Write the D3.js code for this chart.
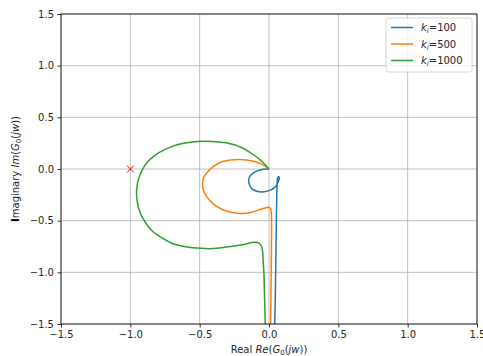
<!DOCTYPE html>
<html>
<head>
<meta charset="utf-8">
<script src="https://cdn.jsdelivr.net/npm/d3@7"></script>
<style>
  body { margin: 0; background: #fff; }
  text { font-family: 'DejaVu Sans', sans-serif; }
</style>
</head>
<body>
<div id="chart"></div>
<script>
const kiValues = [100, 500, 1000];
const colors = ['#1f77b4', '#ff7f0e', '#2ca02c'];
const ticks = [-1.5, -1.0, -0.5, 0.0, 0.5, 1.0, 1.5];

// Nyquist traces, [Re, Im]
const ki100 = [[0, 0], [-0.04, -0.003], [-0.085, -0.018], [-0.12, -0.045], [-0.14, -0.075], [-0.147, -0.11],
  [-0.142, -0.148], [-0.122, -0.192], [-0.08, -0.218], [-0.035, -0.22], [0.01, -0.205], [0.04, -0.18],
  [0.06, -0.145], [0.07, -0.11], [0.075, -0.085], [0.07, -0.075], [0.064, -0.082], [0.06, -0.11],
  [0.057, -0.2], [0.055, -0.35], [0.051, -0.7], [0.046, -1.2], [0.041, -1.5], [0.04, -1.6]];
const ki500 = [[0, 0], [-0.05, 0.045], [-0.1, 0.071], [-0.16, 0.088], [-0.22, 0.092], [-0.28, 0.086],
  [-0.34, 0.07], [-0.395, 0.03], [-0.44, -0.025], [-0.47, -0.08], [-0.48, -0.14], [-0.474, -0.2],
  [-0.45, -0.268], [-0.4, -0.34], [-0.34, -0.39], [-0.27, -0.42], [-0.197, -0.43], [-0.13, -0.42],
  [-0.077, -0.398], [-0.03, -0.378], [-0.005, -0.37], [0.01, -0.378], [0.016, -0.42], [0.018, -0.5],
  [0.018, -0.7], [0.015, -1.1], [0.012, -1.5], [0.011, -1.6]];
const ki1000 = [[0, 0], [-0.06, 0.085], [-0.125, 0.15], [-0.185, 0.198], [-0.245, 0.232], [-0.3, 0.252],
  [-0.36, 0.262], [-0.46, 0.268], [-0.57, 0.258], [-0.68, 0.228], [-0.76, 0.182], [-0.82, 0.135],
  [-0.875, 0.07], [-0.915, -0.01], [-0.942, -0.1], [-0.955, -0.21], [-0.95, -0.32], [-0.93, -0.42],
  [-0.895, -0.51], [-0.85, -0.59], [-0.78, -0.66], [-0.7, -0.718], [-0.6, -0.752], [-0.49, -0.768],
  [-0.4, -0.77], [-0.32, -0.757], [-0.2, -0.735], [-0.115, -0.71], [-0.075, -0.715], [-0.055, -0.745],
  [-0.046, -0.8], [-0.042, -0.9], [-0.037, -1.0], [-0.032, -1.25], [-0.027, -1.5], [-0.026, -1.6]];
const curves = [ki100, ki500, ki1000];
const critical = [[-1, 0]];

const W = 483, H = 356;
const margin = { top: 14, right: 6, bottom: 32, left: 61 };
const width = W - margin.left - margin.right;
const height = H - margin.top - margin.bottom;

const svg = d3.select('#chart').append('svg').attr('width', W).attr('height', H);
const g = svg.append('g').attr('transform', `translate(${margin.left},${margin.top})`);

const x = d3.scaleLinear().domain([-1.5, 1.5]).range([0, width]);
const y = d3.scaleLinear().domain([-1.5, 1.5]).range([height, 0]);
const fmt = d => d3.format('.1f')(d).replace('-', '\u2212');

g.append('clipPath').attr('id', 'clip').append('rect').attr('width', width).attr('height', height);

// grid
g.selectAll('.vgrid').data(ticks).join('line')
  .attr('x1', d => x(d)).attr('x2', d => x(d)).attr('y1', 0).attr('y2', height)
  .attr('stroke', '#b0b0b0').attr('stroke-width', 0.8);
g.selectAll('.hgrid').data(ticks).join('line')
  .attr('y1', d => y(d)).attr('y2', d => y(d)).attr('x1', 0).attr('x2', width)
  .attr('stroke', '#b0b0b0').attr('stroke-width', 0.8);

// curves
const line = d3.line().x(d => x(d[0])).y(d => y(d[1])).curve(d3.curveCatmullRom.alpha(0.5));
const plot = g.append('g').attr('clip-path', 'url(#clip)');
curves.forEach((c, i) => {
  plot.append('path').attr('d', line(c)).attr('fill', 'none')
    .attr('stroke', colors[i]).attr('stroke-width', 1.5).attr('stroke-linejoin', 'round');
});

// critical point marker
critical.forEach(p => {
  const cx = x(p[0]), cy = y(p[1]), s = 3.5;
  plot.append('path').attr('d', `M${cx - s},${cy - s}L${cx + s},${cy + s}M${cx - s},${cy + s}L${cx + s},${cy - s}`)
    .attr('stroke', 'red').attr('stroke-width', 1);
});

// axes
g.append('g').attr('transform', `translate(0,${height})`)
  .call(d3.axisBottom(x).tickValues(ticks).tickFormat(fmt).tickSizeInner(3.5).tickSizeOuter(0).tickPadding(3.5))
  .call(a => a.select('.domain').remove())
  .call(a => a.selectAll('.tick line').attr('stroke', '#000').attr('stroke-width', 0.8))
  .call(a => a.selectAll('.tick text').attr('fill', '#262626').attr('font-size', '10px').attr('font-family', 'DejaVu Sans'));
g.append('g')
  .call(d3.axisLeft(y).tickValues(ticks).tickFormat(fmt).tickSizeInner(3.5).tickSizeOuter(0).tickPadding(3.5))
  .call(a => a.select('.domain').remove())
  .call(a => a.selectAll('.tick line').attr('stroke', '#000').attr('stroke-width', 0.8))
  .call(a => a.selectAll('.tick text').attr('fill', '#262626').attr('font-size', '10px').attr('font-family', 'DejaVu Sans'));

g.append('rect').attr('width', width).attr('height', height)
  .attr('fill', 'none').attr('stroke', '#000').attr('stroke-width', 0.8);

// axis labels
const xl = svg.append('text').attr('x', margin.left + width / 2).attr('y', H - 3)
  .attr('text-anchor', 'middle').attr('font-size', '10px').attr('fill', '#262626');
xl.append('tspan').text('Real ');
xl.append('tspan').attr('font-style', 'italic').text('Re');
xl.append('tspan').text('(');
xl.append('tspan').attr('font-style', 'italic').text('G');
xl.append('tspan').attr('font-size', '7px').attr('dy', 2).text('0');
xl.append('tspan').attr('dy', -2).text('(');
xl.append('tspan').attr('font-style', 'italic').text('jw');
xl.append('tspan').text('))');

const yl = svg.append('text').attr('transform', `translate(19,${margin.top + height / 2}) rotate(-90)`)
  .attr('text-anchor', 'middle').attr('font-size', '10px').attr('fill', '#262626');
yl.append('tspan').attr('font-weight', 'bold').attr('fill', '#000').text('I');
yl.append('tspan').text('maginary ');
yl.append('tspan').attr('font-style', 'italic').text('Im');
yl.append('tspan').text('(');
yl.append('tspan').attr('font-style', 'italic').text('G');
yl.append('tspan').attr('font-size', '7px').attr('dy', 2).text('0');
yl.append('tspan').attr('dy', -2).text('(');
yl.append('tspan').attr('font-style', 'italic').text('jw');
yl.append('tspan').text('))');

// legend
const lg = svg.append('g').attr('transform', 'translate(386,18)');
lg.append('rect').attr('width', 86).attr('height', 54).attr('rx', 2.5)
  .attr('fill', '#fff').attr('fill-opacity', 0.8).attr('stroke', '#cccccc').attr('stroke-width', 0.8);
kiValues.forEach((k, i) => {
  const ly = 9.5 + i * 16.5;
  lg.append('line').attr('x1', 5).attr('x2', 27).attr('y1', ly).attr('y2', ly)
    .attr('stroke', colors[i]).attr('stroke-width', 1.5);
  const t = lg.append('text').attr('x', 35).attr('y', ly + 3.5).attr('font-size', '10px').attr('fill', '#262626');
  t.append('tspan').attr('font-style', 'italic').text('k');
  t.append('tspan').attr('font-style', 'italic').attr('font-size', '7px').attr('dy', 2).text('i');
  t.append('tspan').attr('dy', -2).text('=' + k);
});
</script>
</body>
</html>
